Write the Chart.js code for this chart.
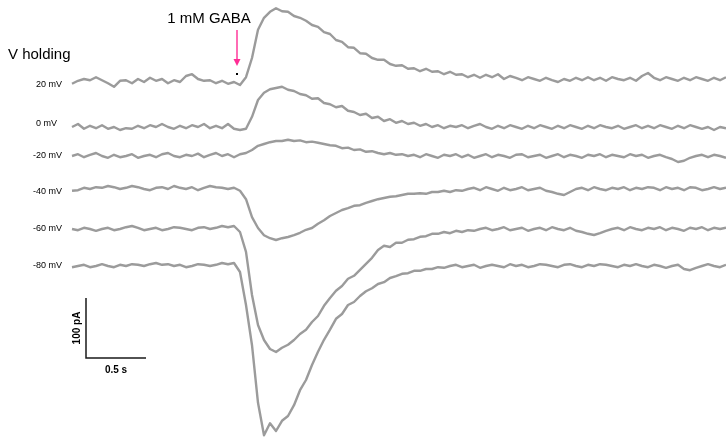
<!DOCTYPE html>
<html>
<head>
<meta charset="utf-8">
<script src="https://cdn.jsdelivr.net/npm/chart.js@4"></script>
<style>
  html, body { margin: 0; padding: 0; background: #ffffff; }
  canvas { display: block; }
</style>
</head>
<body>
<canvas id="myChart" width="726" height="448"></canvas>
<script>
// holding potentials, one trace each
const holdingLabels = ['20 mV', '0 mV', '-20 mV', '-40 mV', '-60 mV', '-80 mV'];

// sample interval of the traces (s)
const sampleStep = 0.05;

// currents in pA, relative to each trace's baseline
const trace20 = [
  -3, 2, 5, 3, 8, 3, -2, -8, 2, 3, -2, 5, 0, 7, 2, 5, -2, 3, 0, 10, 13, 5, 2, 3, -2, 2, -3, 0, -5,
  8, 40, 87, 107, 117, 123, 118, 117, 110, 107, 102, 95, 92, 83, 80, 70, 67, 58, 57, 48, 47, 40, 37, 37, 30,
  27, 28, 22, 23, 18, 22, 17, 18, 13, 17, 12, 13, 8,
  12, 7, 12, 8, 13, 5, 10, 7, 3, 8, 5, 2, 7, 3, 0, 5, 2, 7, 3, 8, 3, 7, 2, 8, 5, 3, 7, 2, 10, 15,
  7, 3, 8, 5, 2, 7, 3, 8, 5, 2, 7, 3, 8
];
const trace0 = [
  0, 5, -3, 2, -2, 3, -3, 0, -5, -2, -3, 2, -2, 3, 0, 5, 0, -3, 2, -2, 3, 0, 5, -2, 2, -2, 5, -3, -5,
  -3, 17, 45, 57, 63, 65, 67, 62, 60, 55, 53, 47, 48, 40, 38, 33, 35, 27, 25, 20, 22, 15, 17, 10, 13,
  7, 10, 5, 7, 2, 5, 0, 3, -2, 2,
  0, 3, -2, 2, 5, 0, -3, 2, -2, 3, 0, -3, 2, -2, 3, 0, -3, 2, -2, 3, 0, -3, 2, -2, 3, 0, -2, 2, -3, 0,
  3, -2, 2, -2, 3, 0, -3, 2, -2, 3, 0, -3, 0, -5, 0, -2
];
const traceM20 = [
  0, 3, -2, 2, 5, 0, -3, 2, -2, 0, 3, -3, 0, 2, -2, 3, 5, 0, -2, 2, 0, 4, -2, 2, 5, 0, 3, -2, 3,
  5, 10, 17, 20, 23, 25, 25, 27, 25, 26, 23, 24, 22, 20, 18, 17, 13, 14, 10, 11, 7, 8, 5, 3, 5, 2, 3, 0,
  2, -2, 3, 0, -3, 2, 0, 3, -2, 2, -3, 0, 3, -2, 2, 0, -3, 2, 3, -2, 0, 2, -3, 0, 3, -2, 2, 0, -3, 2,
  0, 3, -2, 2, 0, -2, 3, 0, 2, -3, 0, 2, -2, -5, -10, -8, -3, 0, 2, -2, 2, 0, -3
];
const traceM40 = [
  -3, -2, 2, 0, 3, 2, 5, 3, 0, 2, 5, 3, 0, -2, 2, 3, 0, 5, 2, 0, 3, -2, 2, 5, 3, 2, 0, 2,
  -3, -17, -47, -65, -77, -82, -85, -82, -80, -77, -73, -68, -65, -58, -52, -45, -40, -35, -32, -28,
  -27, -23, -20, -17, -15, -13, -12, -10, -8, -8, -7, -8, -5, -5, -3, -5, -2, -3, 0,
  2, -2, 3, 0, -3, 2, -2, 0, 3, -2, 0, 2, -3, -5, -8, -10, -5, 0, 2, -2, 3, 0, -2, 2, 0, 3, -2, 2,
  0, 3, 2, -2, 3, 0, 2, -2, 3, 2, -2, 0, 3, 0, 2
];
const traceM60 = [
  0, -2, 2, 0, -3, 0, 2, -2, 0, 3, 5, 2, -2, 0, 2, -2, 0, 3, 2, 0, -2, 2, 3, 0, 2, 5, 3, 5,
  -5, -38, -110, -160, -185, -200, -205, -198, -193, -185, -175, -168, -155, -145, -128, -115, -103,
  -95, -83, -78, -68, -58, -48, -35, -28, -30, -23, -23, -18, -17, -13, -12, -8, -8, -5, -7, -3, -5,
  -2, -3, 0,
  2, -2, 0, 3, -2, 0, 2, -3, 0, 2, -2, 3, 0, -2, 2, -3, -5, -8, -10, -7, -3, 0, 2, -2, 3, 0, -2, 2,
  0, 3, -2, 2, 0, -3, 2, 0, 3, -2, 2, 0, 2
];
const traceM80 = [
  -2, 0, 2, -2, 0, 3, 0, -2, 2, 0, 3, 2, 0, 3, 5, 2, 3, 0, 2, -2, 0, 3, 2, 0, 2, 5, 3,
  5, -10, -65, -132, -228, -282, -262, -275, -258, -250, -232, -207, -190, -165, -143, -123, -106,
  -88, -80, -65, -60, -50, -42, -37, -30, -27, -20, -17, -13, -12, -8, -8, -5, -5, -2, -3, 0,
  2, -2, 0, 2, -3, 0, 2, 0, -2, 3, 0, 2, -2, 0, 3, 2, 0, -2, 2, 3, 0, -2, 2, 0, 3, 2, 0, -2, 2, 0,
  3, 0, -2, 2, 0, -3, 0, 2, -5, -7, -3, 0, 3, 0, -2, 2
];

const traces = [trace20, trace0, traceM20, traceM40, traceM60, traceM80];

// layout: vertical pixel where each trace's baseline sits, 100 pA = 60 px, 0.5 s = 60 px
const pxPerPA = 0.6;
const pxPerS = 120;
const traceLeftPx = 72;
const baselinePx = [82, 127, 156, 189, 229, 266];
const labelPx = [85, 124, 156, 192, 229, 266];
const gabaTime = 1.375;

const W = 726, H = 448;
const traceColor = '#9b9b9b';

const datasets = traces.map((tr, i) => {
  const offset = -baselinePx[i] / pxPerPA;
  return {
    label: holdingLabels[i],
    data: tr.map((v, k) => ({ x: k * sampleStep, y: v + offset })),
    borderColor: traceColor,
    backgroundColor: traceColor,
    borderWidth: 2.4,
    borderJoinStyle: 'round',
    pointRadius: 0,
    tension: 0,
    fill: false
  };
});

const overlay = {
  id: 'overlay',
  afterDraw(chart) {
    const ctx = chart.ctx;
    const xs = chart.scales.x, ys = chart.scales.y;
    ctx.save();
    ctx.fillStyle = '#000';
    ctx.textBaseline = 'alphabetic';
    ctx.textAlign = 'left';
    ctx.font = '15px "Liberation Sans", Arial, sans-serif';
    ctx.fillText('V holding', 8, 59);

    ctx.textAlign = 'center';
    ctx.fillText('1 mM GABA', 209, 23);

    // holding labels
    ctx.font = '9px "Liberation Sans", Arial, sans-serif';
    ctx.textBaseline = 'middle';
    ctx.textAlign = 'left';
    holdingLabels.forEach((lab, i) => {
      ctx.fillText(lab, lab[0] === '-' ? 33 : 36, labelPx[i]);
    });

    // GABA arrow
    const ax = Math.round(xs.getPixelForValue(gabaTime));
    ctx.strokeStyle = '#ff2d95';
    ctx.fillStyle = '#ff2d95';
    ctx.lineWidth = 1.4;
    ctx.beginPath();
    ctx.moveTo(ax, 30);
    ctx.lineTo(ax, 60);
    ctx.stroke();
    ctx.beginPath();
    ctx.moveTo(ax - 3.5, 59);
    ctx.lineTo(ax + 3.5, 59);
    ctx.lineTo(ax, 66);
    ctx.closePath();
    ctx.fill();
    ctx.fillStyle = '#000';
    ctx.fillRect(ax - 1, 73, 2, 2);

    // scale bar: 0.5 s by 100 pA
    const t0 = (86 - traceLeftPx) / pxPerS;
    const yBottom = -358 / pxPerPA;
    const x0 = xs.getPixelForValue(t0);
    const x1 = xs.getPixelForValue(t0 + 0.5);
    const y0 = ys.getPixelForValue(yBottom);
    const y1 = ys.getPixelForValue(yBottom + 100);
    ctx.strokeStyle = '#1a1a1a';
    ctx.lineWidth = 1.5;
    ctx.beginPath();
    ctx.moveTo(x0, y1);
    ctx.lineTo(x0, y0);
    ctx.lineTo(x1, y0);
    ctx.stroke();

    ctx.fillStyle = '#000';
    ctx.font = 'bold 10px "Liberation Sans", Arial, sans-serif';
    ctx.textAlign = 'center';
    ctx.textBaseline = 'alphabetic';
    ctx.fillText('0.5 s', (x0 + x1) / 2, 373);
    ctx.save();
    ctx.translate(80, (y0 + y1) / 2);
    ctx.rotate(-Math.PI / 2);
    ctx.fillText('100 pA', 0, 0);
    ctx.restore();

    ctx.restore();
  }
};

const config = {
  type: 'line',
  data: { datasets: datasets },
  options: {
    responsive: false,
    animation: false,
    layout: { padding: 0 },
    plugins: {
      legend: { display: false },
      tooltip: { enabled: false }
    },
    scales: {
      x: {
        type: 'linear',
        display: false,
        min: -traceLeftPx / pxPerS,
        max: (W - traceLeftPx) / pxPerS
      },
      y: {
        type: 'linear',
        display: false,
        min: -H / pxPerPA,
        max: 0
      }
    }
  },
  plugins: [overlay]
};

const myChart = new Chart(document.getElementById('myChart'), config);
</script>
</body>
</html>
